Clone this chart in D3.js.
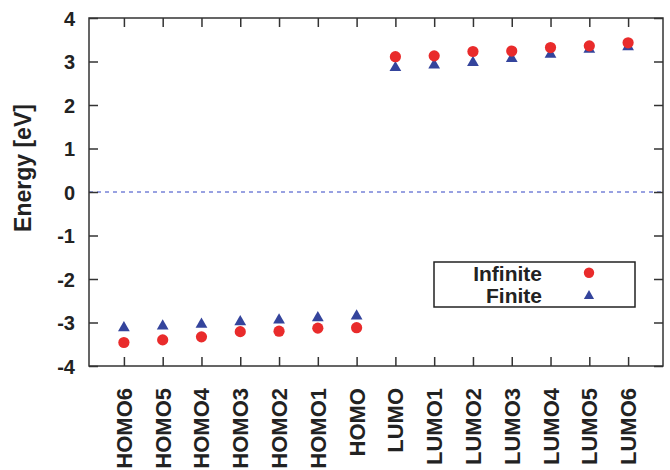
<!DOCTYPE html>
<html><head><meta charset="utf-8">
<script src="https://cdn.jsdelivr.net/npm/d3@7"></script>
<style>body{margin:0;background:#fff}svg{display:block}</style>
</head><body>
<script>
const categories = ["HOMO6","HOMO5","HOMO4","HOMO3","HOMO2","HOMO1","HOMO","LUMO","LUMO1","LUMO2","LUMO3","LUMO4","LUMO5","LUMO6"];
const infinite = [-3.46,-3.40,-3.33,-3.21,-3.20,-3.13,-3.12,3.11,3.13,3.23,3.24,3.32,3.36,3.43];
const finite   = [-3.10,-3.06,-3.02,-2.96,-2.92,-2.87,-2.83,2.88,2.94,3.00,3.09,3.19,3.30,3.36];
const yTicks = [-4,-3,-2,-1,0,1,2,3,4];
const seriesNames = ["Infinite","Finite"];

const W = 670, H = 470;
const L = 89, R = 663, T = 18, B = 366;
const red = "#e92b2b", blue = "#34449c", axisCol = "#333";
const font = "'Liberation Sans', Arial, Helvetica, sans-serif";

const svg = d3.select("body").append("svg").attr("width", W).attr("height", H);

const x = d3.scalePoint().domain(categories).range([L, R]).padding(0.9);
const y = d3.scaleLinear().domain([-4, 4]).range([B, T]);

// zero line
svg.append("line").attr("x1", L).attr("x2", R).attr("y1", y(0)).attr("y2", y(0))
  .attr("stroke", "#3344c4").attr("stroke-width", 1).attr("stroke-dasharray", "4,4");

// axes with inward ticks
const tl = 9;
const gB = svg.append("g").attr("transform", `translate(0,${B})`)
  .call(d3.axisBottom(x).tickSize(-tl).tickFormat(""));
const gT = svg.append("g").attr("transform", `translate(0,${T})`)
  .call(d3.axisTop(x).tickSize(-tl).tickFormat(""));
const gL = svg.append("g").attr("transform", `translate(${L},0)`)
  .call(d3.axisLeft(y).tickValues(yTicks).tickSize(-tl).tickFormat(d => String(d)));
const gR = svg.append("g").attr("transform", `translate(${R},0)`)
  .call(d3.axisRight(y).tickValues(yTicks).tickSize(-tl).tickFormat(""));
[gB, gT, gL, gR].forEach(g => {
  g.selectAll(".domain").remove();
  g.selectAll(".tick line").attr("stroke", axisCol).attr("stroke-width", 1.5);
});
gL.selectAll(".tick text").attr("x", -14).attr("font-family", font).attr("font-weight", "bold")
  .attr("font-size", 20).attr("fill", "#222").attr("dy", "0.36em");

// x labels rotated
svg.append("g").selectAll("text").data(categories).join("text")
  .attr("transform", d => `translate(${x(d) + 8},388) rotate(-90)`)
  .attr("text-anchor", "end")
  .attr("font-family", font).attr("font-weight", "bold").attr("font-size", 22).attr("fill", "#222")
  .text(d => d);

// frame
svg.append("rect").attr("x", L).attr("y", T).attr("width", R - L).attr("height", B - T)
  .attr("fill", "none").attr("stroke", axisCol).attr("stroke-width", 1.5);

// y axis label
svg.append("text").attr("transform", `translate(31,168) rotate(-90)`).attr("text-anchor", "middle")
  .attr("font-family", font).attr("font-weight", "bold").attr("font-size", 23).attr("fill", "#222")
  .text("Energy [eV]");

const tri = d3.symbol().type(d3.symbolTriangle).size(60);

// points
svg.append("g").selectAll("path").data(categories).join("path")
  .attr("d", tri)
  .attr("transform", (d, i) => `translate(${x(d)},${y(finite[i]) + 1})`)
  .attr("fill", blue);
svg.append("g").selectAll("circle").data(categories).join("circle")
  .attr("cx", d => x(d)).attr("cy", (d, i) => y(infinite[i])).attr("r", 5.6)
  .attr("fill", red);

// legend
const lg = svg.append("g");
lg.append("rect").attr("x", 434).attr("y", 262).attr("width", 201).attr("height", 45)
  .attr("fill", "#fff").attr("stroke", "#222").attr("stroke-width", 1.5);
lg.selectAll("text").data(seriesNames).join("text")
  .attr("x", 542).attr("y", (d, i) => 280.5 + i * 22.6).attr("text-anchor", "end")
  .attr("font-family", font).attr("font-weight", "bold").attr("font-size", 21).attr("fill", "#222")
  .text(d => d);
lg.append("circle").attr("cx", 589).attr("cy", 272.7).attr("r", 5.2).attr("fill", red);
lg.append("path").attr("d", d3.symbol().type(d3.symbolTriangle).size(45)).attr("transform", "translate(589,296)").attr("fill", blue);
</script>
</body></html>
